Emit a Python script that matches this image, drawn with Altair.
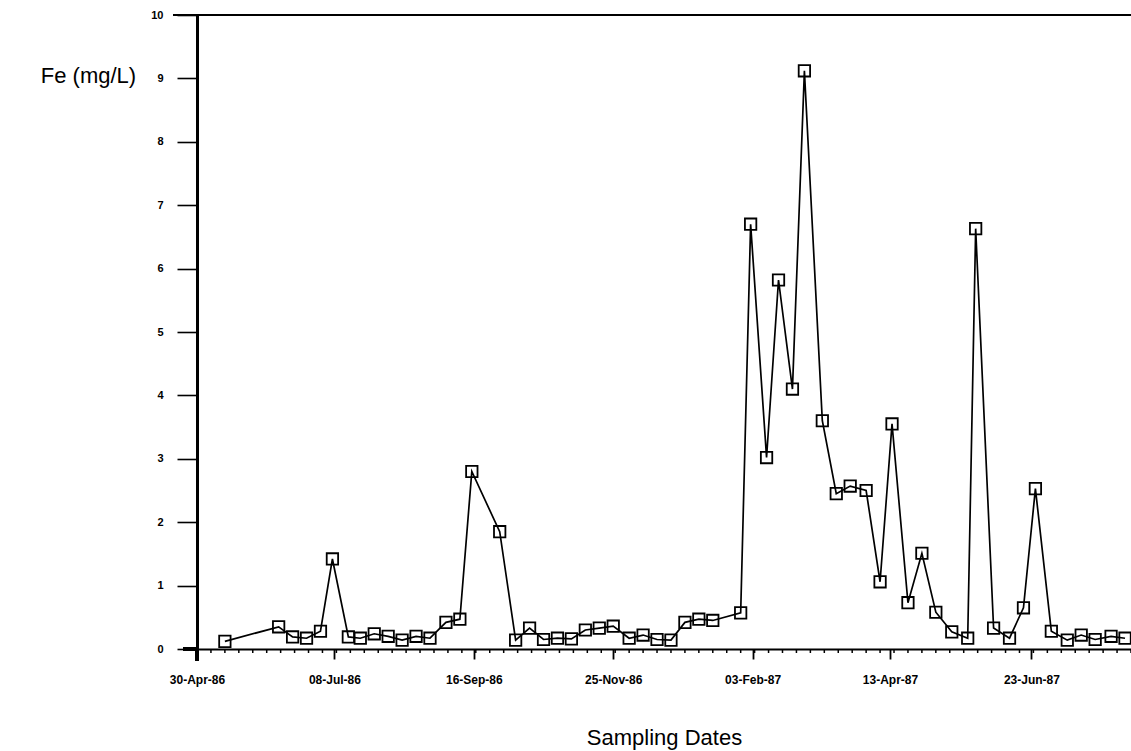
import altair as alt
import pandas as pd

# Fe concentrations at each sampling date
sample_dates = [
    "1986-05-14", "1986-06-10", "1986-06-17", "1986-06-24", "1986-07-01",
    "1986-07-07", "1986-07-15", "1986-07-21", "1986-07-28", "1986-08-04",
    "1986-08-11", "1986-08-18", "1986-08-25", "1986-09-02", "1986-09-09",
    "1986-09-15", "1986-09-29", "1986-10-07", "1986-10-14", "1986-10-21",
    "1986-10-28", "1986-11-04", "1986-11-11", "1986-11-18", "1986-11-25",
    "1986-12-03", "1986-12-10", "1986-12-17", "1986-12-24", "1986-12-31",
    "1987-01-07", "1987-01-14", "1987-01-28", "1987-02-02", "1987-02-10",
    "1987-02-16", "1987-02-23", "1987-03-01", "1987-03-10", "1987-03-17",
    "1987-03-24", "1987-04-01", "1987-04-08", "1987-04-14", "1987-04-22",
    "1987-04-29", "1987-05-06", "1987-05-14", "1987-05-22", "1987-05-26",
    "1987-06-04", "1987-06-12", "1987-06-19", "1987-06-25", "1987-07-03",
    "1987-07-11", "1987-07-18", "1987-07-25", "1987-08-02", "1987-08-09",
]
fe_mg_per_l = [
    0.12, 0.35, 0.19, 0.17, 0.28,
    1.42, 0.19, 0.17, 0.24, 0.20,
    0.14, 0.20, 0.17, 0.42, 0.47,
    2.80, 1.85, 0.14, 0.33, 0.15,
    0.17, 0.16, 0.30, 0.33, 0.36,
    0.17, 0.22, 0.15, 0.14, 0.42,
    0.47, 0.45, 0.57, 6.70, 3.02,
    5.82, 4.10, 9.12, 3.60, 2.45,
    2.57, 2.50, 1.06, 3.55, 0.73,
    1.51, 0.58, 0.27, 0.17, 6.63,
    0.33, 0.17, 0.65, 2.53, 0.28,
    0.14, 0.22, 0.15, 0.20, 0.17,
]

# Labelled date ticks (every ten weeks)
tick_dates = [(1986, 4, 30), (1986, 7, 8), (1986, 9, 16), (1986, 11, 25),
              (1987, 2, 3), (1987, 4, 13), (1987, 6, 23)]
y_ticks = list(range(0, 11))

W, H = 934, 634
FONT = "Liberation Sans"

df = pd.DataFrame({"date": sample_dates, "fe": fe_mg_per_l})
weekly = pd.DataFrame({
    "date": pd.date_range("1986-05-07", "1987-08-12", freq="7D").strftime("%Y-%m-%d")
})

x_scale = alt.Scale(
    type="utc",
    domain=[alt.DateTime(year=1986, month=4, date=30, utc=True),
            alt.DateTime(year=1987, month=8, date=12, utc=True)],
)
y_scale = alt.Scale(domain=[0, 10], nice=False, zero=True)

x_axis = alt.Axis(
    values=[alt.DateTime(year=y, month=m, date=d, utc=True) for y, m, d in tick_dates],
    labelExpr="utcFormat(datum.value, '%d-%b-%y')",
    tickSize=10, tickWidth=1.8, tickColor="black",
    domainWidth=2.2, domainColor="black",
    labelPadding=15, labelFont=FONT, labelFontSize=12, labelFontWeight="bold",
    labelColor="black", labelFlush=False, labelOverlap=False,
    grid=False,
    title="Sampling Dates", titleFont=FONT, titleFontSize=22,
    titleFontWeight="normal", titleColor="black", titleY=88, titleBaseline="middle",
)
y_axis = alt.Axis(
    values=y_ticks, format="d",
    tickSize=20, tickWidth=1.6, tickColor="black",
    domainWidth=3, domainColor="black",
    labelPadding=14, labelFont=FONT, labelFontSize=11, labelFontWeight="bold",
    labelColor="black",
    grid=False,
    title="Fe (mg/L)", titleFont=FONT, titleFontSize=22, titleFontWeight="normal",
    titleColor="black", titleAngle=0, titleAlign="center", titleBaseline="middle",
    titleX=-109, titleY=60,
)

X = alt.X("date:T", scale=x_scale, axis=x_axis, title="Sampling Dates")
Y = alt.Y("fe:Q", scale=y_scale, axis=y_axis, title="Fe (mg/L)")

line = alt.Chart(df).mark_line(color="black", strokeWidth=1.7).encode(x=X, y=Y)
points = alt.Chart(df).mark_point(
    shape="square", filled=False, color="black", strokeWidth=1.8, size=130, opacity=1
).encode(x=X, y=Y)

# weekly minor ticks under the date axis
minor = alt.Chart(weekly).mark_rule(color="black", strokeWidth=1.5).encode(
    x=X,
    y=alt.value(H),
    y2=alt.value(H + 4),
)

# frame line along the top and the short axis overhangs at the origin
top_line = alt.Chart(df).mark_rule(color="black", strokeWidth=2.2).encode(
    x=alt.value(-24), x2=alt.value(W), y=alt.value(0)
)
x_overhang = alt.Chart(df).mark_rule(color="black", strokeWidth=2.2).encode(
    x=alt.value(-14), x2=alt.value(0), y=alt.value(H)
)
y_overhang = alt.Chart(df).mark_rule(color="black", strokeWidth=3).encode(
    x=alt.value(0), y=alt.value(H), y2=alt.value(H + 12)
)

chart = (
    alt.layer(line, points, minor, top_line, x_overhang, y_overhang)
    .properties(
        width=W, height=H,
        autosize=alt.AutoSizeParams(type="none"),
        padding={"left": 197, "top": 15, "right": 0, "bottom": 102},
        background="white",
    )
    .configure_view(stroke=None)
)

chart.save("out.html", embed_options={"renderer": "svg", "actions": False})
